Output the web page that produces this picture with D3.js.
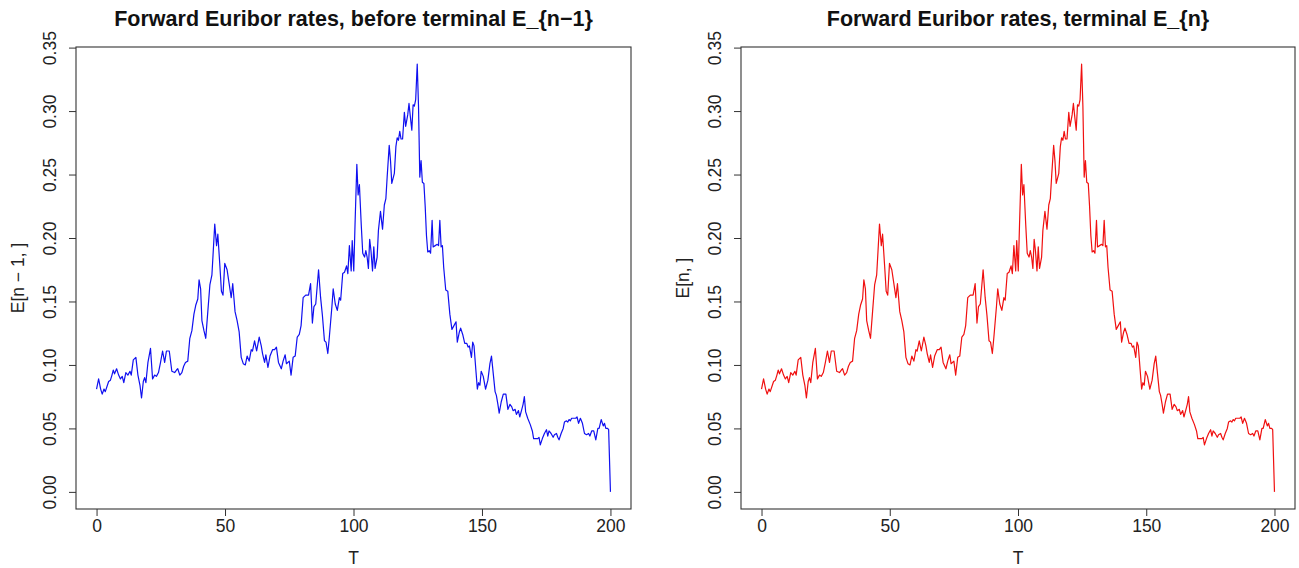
<!DOCTYPE html>
<html>
<head>
<meta charset="utf-8">
<script src="https://cdn.jsdelivr.net/npm/d3@7"></script>
<style>
  body { margin: 0; background: #fff; }
  svg { font-family: "Liberation Sans", Arial, sans-serif; }
</style>
</head>
<body>
<svg width="1299" height="568"></svg>
<script>
// time grid (T)
const tPoints = [
  0, 0.8, 1.6, 2.2, 2.9, 3.4, 4.7, 5.4, 6.0, 6.5, 7.0, 7.8, 8.6, 9.3, 10.0, 10.6, 11.4, 12.2, 13.0, 13.5,
  14.3, 15.3, 16.1, 16.9, 17.5, 18.2, 18.7, 19.2, 20.0, 21.0, 21.8, 22.6, 23.3, 24.1, 24.9, 25.7, 26.5, 27.2, 28.3, 29.3,
  30.4, 31.1, 31.6, 32.4, 33.2, 33.9, 34.6, 35.5, 36.3, 37.1, 37.9, 38.6, 39.4, 39.9, 40.5, 41.0, 41.8, 42.5, 43.3, 44.1,
  44.9, 45.4, 46.0, 46.7, 47.2, 48.0, 48.6, 49.2, 49.9, 50.8, 51.6, 52.4, 53.0, 53.9, 54.7, 55.5, 56.3, 57.1, 57.9, 58.6,
  59.4, 60.2, 60.7, 61.5, 62.3, 63.3, 64.1, 64.6, 65.4, 65.9, 66.7, 67.5, 68.5, 69.3, 70.0, 70.8, 71.9, 72.6, 73.4, 73.9,
  75.0, 75.7, 76.5, 77.3, 78.1, 78.9, 79.6, 80.4, 81.4, 82.5, 83.3, 84.0, 84.6, 85.3, 86.4, 87.2, 87.9, 88.7, 89.3, 90.0,
  90.6, 91.6, 92.1, 92.9, 93.7, 94.5, 95.0, 95.8, 96.5, 97.3, 97.8, 98.4, 99.1, 99.5, 100.1, 100.6, 101.3, 101.8, 102.3, 103.0,
  103.6, 104.3, 104.8, 105.3, 105.8, 106.3, 106.8, 107.4, 107.9, 108.4, 109.2, 109.7, 110.5, 111.3, 112.0, 112.6, 113.1, 113.9, 114.4, 114.9,
  115.4, 115.9, 116.5, 117.0, 117.5, 118.0, 118.5, 119.1, 119.8, 120.3, 121.1, 121.6, 122.1, 122.7, 123.2, 123.7, 124.2, 124.8, 125.3, 125.8,
  126.3, 126.8, 127.4, 127.9, 128.4, 128.9, 129.5, 130.0, 130.6, 131.0, 131.8, 132.6, 133.1, 133.6, 134.1, 134.6, 135.1, 135.9, 136.7, 137.5,
  138.3, 139.1, 139.9, 140.4, 141.2, 141.7, 142.5, 143.3, 144.1, 144.6, 145.1, 145.9, 146.4, 146.9, 147.7, 148.2, 148.7, 149.2, 149.7, 150.5,
  151.4, 152.3, 153.1, 153.7, 154.4, 155.1, 155.6, 156.2, 156.7, 157.5, 158.3, 159.3, 160.1, 160.9, 161.6, 162.1, 162.9, 163.4, 164.2, 164.7,
  165.5, 166.0, 166.5, 167.0, 167.8, 168.8, 169.6, 170.1, 170.9, 171.7, 172.2, 172.7, 173.5, 174.3, 175.1, 175.6, 176.1, 176.9, 177.7, 178.2,
  179.0, 179.5, 180.0, 180.8, 181.6, 182.1, 182.9, 183.4, 183.9, 184.4, 184.9, 185.7, 186.5, 187.0, 187.6, 188.3, 189.1, 189.9, 190.7, 191.5,
  192.0, 192.7, 193.5, 194.3, 195.1, 195.6, 196.4, 197.2, 197.7, 198.2, 198.9, 199.3, 200.0
];

// forward rate values (same path in both panels)
const ratePoints = [
  0.081, 0.089, 0.081, 0.077, 0.081, 0.079, 0.087, 0.088, 0.092, 0.096, 0.093, 0.097, 0.092, 0.089, 0.091, 0.086, 0.094, 0.092, 0.095, 0.092,
  0.104, 0.106, 0.092, 0.084, 0.074, 0.087, 0.090, 0.086, 0.102, 0.113, 0.089, 0.092, 0.091, 0.094, 0.102, 0.111, 0.102, 0.111, 0.111, 0.095,
  0.094, 0.096, 0.097, 0.092, 0.094, 0.099, 0.102, 0.103, 0.121, 0.127, 0.140, 0.147, 0.152, 0.167, 0.160, 0.135, 0.127, 0.121, 0.142, 0.163,
  0.171, 0.189, 0.211, 0.194, 0.203, 0.178, 0.158, 0.155, 0.180, 0.175, 0.164, 0.153, 0.164, 0.142, 0.135, 0.126, 0.106, 0.101, 0.100, 0.107,
  0.103, 0.112, 0.111, 0.119, 0.111, 0.122, 0.115, 0.109, 0.102, 0.108, 0.098, 0.107, 0.112, 0.112, 0.114, 0.102, 0.097, 0.103, 0.108, 0.101,
  0.103, 0.092, 0.106, 0.107, 0.122, 0.124, 0.131, 0.153, 0.155, 0.155, 0.164, 0.133, 0.146, 0.148, 0.175, 0.153, 0.139, 0.119, 0.118, 0.109,
  0.122, 0.146, 0.160, 0.148, 0.143, 0.153, 0.151, 0.172, 0.173, 0.178, 0.172, 0.194, 0.174, 0.198, 0.174, 0.211, 0.258, 0.234, 0.242, 0.211,
  0.188, 0.185, 0.190, 0.185, 0.176, 0.199, 0.190, 0.174, 0.193, 0.176, 0.185, 0.206, 0.221, 0.207, 0.226, 0.231, 0.248, 0.273, 0.261, 0.243,
  0.247, 0.251, 0.272, 0.279, 0.277, 0.284, 0.278, 0.278, 0.299, 0.288, 0.297, 0.306, 0.296, 0.285, 0.305, 0.304, 0.309, 0.337, 0.304, 0.248,
  0.261, 0.244, 0.243, 0.225, 0.202, 0.189, 0.190, 0.188, 0.214, 0.193, 0.194, 0.195, 0.194, 0.214, 0.193, 0.194, 0.177, 0.159, 0.158, 0.140,
  0.128, 0.131, 0.134, 0.118, 0.126, 0.129, 0.124, 0.117, 0.117, 0.114, 0.115, 0.106, 0.118, 0.115, 0.094, 0.081, 0.086, 0.084, 0.095, 0.091,
  0.081, 0.088, 0.101, 0.107, 0.093, 0.079, 0.076, 0.069, 0.062, 0.071, 0.077, 0.077, 0.065, 0.069, 0.067, 0.064, 0.065, 0.061, 0.064, 0.059,
  0.065, 0.069, 0.075, 0.063, 0.058, 0.053, 0.048, 0.042, 0.042, 0.042, 0.043, 0.037, 0.042, 0.046, 0.049, 0.044, 0.048, 0.046, 0.043, 0.045,
  0.046, 0.043, 0.041, 0.046, 0.050, 0.055, 0.056, 0.055, 0.057, 0.056, 0.058, 0.058, 0.058, 0.059, 0.054, 0.058, 0.054, 0.046, 0.045, 0.046,
  0.044, 0.048, 0.048, 0.041, 0.050, 0.050, 0.057, 0.052, 0.054, 0.050, 0.050, 0.049, 0.000
];

const xTicks = [0, 50, 100, 150, 200];
const yTicks = [0, 0.05, 0.10, 0.15, 0.20, 0.25, 0.30, 0.35];
const panelTitles = ["Forward Euribor rates, before terminal E_{n\u22121}", "Forward Euribor rates, terminal E_{n}"];
const yLabels = ["E[n \u2212 1, ]", "E[n, ]"];
const lineColors = ["#1010f0", "#f01010"];

const data = tPoints.map((t, i) => ({t: t, v: ratePoints[i]}));

const svg = d3.select("svg");

// plot boxes (pixel frame of each panel)
const panels = [
  {left: 76, right: 631, top: 47, bottom: 509},
  {left: 741, right: 1295, top: 47, bottom: 509}
];

// R-style 4% range extension
function padded(ext) {
  const d = (ext[1] - ext[0]) * 0.04;
  return [ext[0] - d, ext[1] + d];
}

panels.forEach((p, k) => {
  const scX = d3.scaleLinear()
      .domain(padded(d3.extent(data, d => d.t)))
      .range([p.left, p.right]);
  const scY = d3.scaleLinear()
      .domain(padded(d3.extent(data, d => d.v)))
      .range([p.bottom, p.top]);

  const g = svg.append("g");

  // линия ряда
  g.append("path")
      .datum(data)
      .attr("fill", "none")
      .attr("stroke", lineColors[k])
      .attr("stroke-width", 1.2)
      .attr("stroke-linejoin", "round")
      .attr("d", d3.line().x(d => scX(d.t)).y(d => scY(d.v)));

  // рамка
  g.append("rect")
      .attr("x", p.left).attr("y", p.top)
      .attr("width", p.right - p.left).attr("height", p.bottom - p.top)
      .attr("fill", "none")
      .attr("stroke", "#333")
      .attr("stroke-width", 1.1);

  // оси
  const ax = g.append("g")
      .attr("transform", `translate(0, ${p.bottom})`)
      .call(d3.axisBottom(scX).tickValues(xTicks).tickSize(7).tickSizeOuter(0).tickPadding(4)
            .tickFormat(d3.format("d")));
  ax.select(".domain").remove();
  ax.selectAll("line").attr("stroke", "#333");
  ax.selectAll("text").style("font-size", "17.5px").attr("fill", "#222");

  const ay = g.append("g")
      .attr("transform", `translate(${p.left}, 0)`)
      .call(d3.axisLeft(scY).tickValues(yTicks).tickSize(7).tickSizeOuter(0)
            .tickFormat(d3.format(".2f")));
  ay.select(".domain").remove();
  ay.selectAll("line").attr("stroke", "#333");
  ay.selectAll("text")
      .style("font-size", "17.5px")
      .attr("fill", "#222")
      .attr("x", 0).attr("dy", null)
      .attr("text-anchor", "middle")
      .attr("transform", "translate(-20, 0) rotate(-90)");

  // подписи
  const cx = (p.left + p.right) / 2;
  g.append("text")
      .attr("x", cx).attr("y", 26)
      .attr("text-anchor", "middle")
      .style("font-size", "21.5px").style("font-weight", "bold")
      .attr("fill", "#111")
      .text(panelTitles[k]);

  g.append("text")
      .attr("x", cx).attr("y", 564)
      .attr("text-anchor", "middle")
      .style("font-size", "17.5px")
      .attr("fill", "#222")
      .text("T");

  g.append("text")
      .attr("transform", `translate(${p.left - 52}, ${(p.top + p.bottom) / 2}) rotate(-90)`)
      .attr("text-anchor", "middle")
      .style("font-size", "17.5px")
      .attr("fill", "#222")
      .text(yLabels[k]);
});
</script>
</body>
</html>
